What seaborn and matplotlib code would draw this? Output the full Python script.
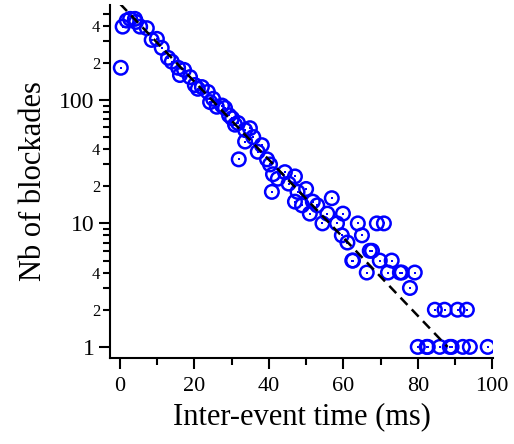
import numpy as np
import pandas as pd
import matplotlib
matplotlib.use('Agg')
import matplotlib.pyplot as plt
import seaborn as sns

# histogram of inter-event times (bin position in ms, number of blockades)
times = [0.2, 0.7, 1.8, 2.7, 4.0, 4.3, 5.4, 7.2, 8.5, 9.9,
         11.2, 12.9, 13.9, 15.6, 16.1, 17.2, 18.8, 20.1, 20.9, 22.0,
         23.6, 24.2, 25.0, 26.0, 27.4, 28.2, 29.3, 30.1, 30.9, 31.7,
         31.9, 33.6, 33.6, 34.9, 35.8, 37.0, 38.1, 39.5, 40.3, 40.8,
         41.1, 42.4, 44.3, 45.3, 47.0, 47.7, 47.0, 48.9, 50.0, 51.0,
         51.8, 53.0, 54.4, 55.7, 56.9, 58.3, 59.6, 59.9, 61.1, 62.4,
         62.6, 63.9, 65.0, 66.3, 67.1, 67.7, 69.0, 69.8, 70.9, 72.0,
         73.0, 75.2, 75.7, 77.9, 79.2, 80.0, 82.4, 82.7, 84.6, 85.9,
         87.2, 88.6, 89.1, 90.7, 92.1, 93.2, 94.0, 98.8]
counts = [182, 392, 439, 453, 453, 428, 392, 381, 306, 312,
          264, 219, 204, 182, 159, 175, 153, 132, 123, 127,
          116, 96, 102, 88, 90, 86, 75, 71, 63, 65,
          33, 57, 46, 59, 50, 38, 43, 33, 30, 18,
          25, 23, 26, 21, 24, 18, 15, 14, 19, 12,
          15, 14, 10, 12, 16, 10, 8, 12, 7, 5,
          5, 10, 8, 4, 6, 6, 10, 5, 10, 4,
          5, 4, 4, 3, 4, 1, 1, 1, 2, 1,
          2, 1, 1, 2, 1, 2, 1, 1]

# exponential fit (straight on log axis), end points
fit_x = [0, 88]
fit_y = [600, 1]

df = pd.DataFrame({'t': times, 'n': counts})
fit = pd.DataFrame({'t': fit_x, 'n': fit_y})

sns.set_style('ticks', {'axes.edgecolor': 'black', 'text.color': 'black',
                        'axes.labelcolor': 'black', 'xtick.color': 'black',
                        'ytick.color': 'black'})
plt.rcParams['font.family'] = ['Liberation Serif', 'DejaVu Serif']

fig = plt.figure(figsize=(5.14, 4.44), dpi=100)
ax = fig.add_axes([0.214, 0.194, 0.745, 0.795])

# open circles with a dot in the middle
sns.scatterplot(data=df, x='t', y='n', ax=ax, marker='o', s=95,
                facecolor='none', edgecolor='blue', linewidth=1.8, zorder=2)
sns.scatterplot(data=df, x='t', y='n', ax=ax, marker='s', s=4,
                color='blue', edgecolor='blue', linewidth=0, zorder=2)
sns.lineplot(data=fit, x='t', y='n', ax=ax, color='black', linewidth=1.8,
             dashes=False, linestyle=(0, (4, 2.5)), zorder=3)

ax.set_yscale('log')
ax.set_xlim(-2.7, 100.2)
ax.set_ylim(0.815, 588)

ax.set_xticks([0, 20, 40, 60, 80, 100])
ax.set_xticks([10, 30, 50, 70, 90], minor=True)
ax.set_yticks([1, 10, 100])
ax.set_yticklabels(['1', '10', '100'])
minor_y = [2, 3, 4, 5, 6, 7, 8, 9, 20, 30, 40, 50, 60, 70, 80, 90, 200, 300, 400, 500]
minor_lab = ['2', '', '4', '', '', '', '', '', '2', '', '4', '', '', '', '', '', '2', '', '4', '']
ax.set_yticks(minor_y, minor=True)
ax.set_yticklabels(minor_lab, minor=True)

ax.tick_params(axis='y', which='major', length=8, width=1.5, labelsize=17, pad=3)
ax.tick_params(axis='y', which='minor', length=5, width=1.5, labelsize=12, pad=2)
ax.tick_params(axis='x', which='major', length=8, width=1.5, labelsize=16, pad=6)
ax.tick_params(axis='x', which='minor', length=5, width=1.5)

for side in ['left', 'bottom']:
    ax.spines[side].set_linewidth(1.5)
sns.despine(ax=ax)

ax.set_xlabel('Inter-event time (ms)', fontsize=22, labelpad=4)
ax.set_ylabel('Nb of blockades', fontsize=22, labelpad=8)

fig.savefig('out.png', dpi=100)
